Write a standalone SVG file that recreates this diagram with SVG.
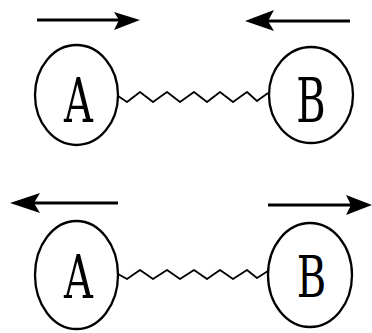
<svg xmlns="http://www.w3.org/2000/svg" width="372" height="333" viewBox="0 0 372 333">
<style>
.node ellipse{fill:none;stroke:#000;stroke-width:2.3}
.node text{font-family:"DejaVu Serif",serif;font-size:40px;fill:#000;text-anchor:middle}
.conn{fill:none;stroke:#000;stroke-width:1.8;stroke-linejoin:round}
.arrow{fill:none;stroke:#000;stroke-width:3}
.head{fill:#000;stroke:none}
</style>
<rect width="372" height="333" fill="#fff"/>
<g id="connectors">
<polyline class="conn" points="118,96 127,102 140,92 153,102 167,92 180,102 194,92 207,102 220,92 233,102 247,92 257,101 268,93"/>
<polyline class="conn" points="118,274 127,279 140,270 153,279 167,270 180,279 194,270 207,279 220,270 233,279 247,270 257,278 268,271"/>
<g id="arrow-top-left">
<line class="arrow" x1="37" y1="20" x2="128" y2="20"/>
<path class="head" d="M140,20 L114,12 L119,20 L114,30 Z"/>
</g>
<g id="arrow-top-right">
<line class="arrow" x1="262" y1="21" x2="350" y2="21"/>
<path class="head" d="M245,21 L274,10 L268,21 L274,31 Z"/>
</g>
<g id="arrow-bottom-left">
<line class="arrow" x1="25" y1="203" x2="118" y2="203"/>
<path class="head" d="M10,203 L40,193 L34,203 L40,213 Z"/>
</g>
<g id="arrow-bottom-right">
<line class="arrow" x1="268" y1="205" x2="358" y2="205"/>
<path class="head" d="M372,205 L346,195 L351,205 L346,215 Z"/>
</g>
</g>
<g id="node-A-top" class="node">
<ellipse cx="76.5" cy="95" rx="41.5" ry="50"/>
<text transform="translate(78.5,122) scale(1,1.55)">A</text>
</g>
<g id="node-B-top" class="node">
<ellipse cx="311" cy="95" rx="42" ry="48"/>
<text transform="translate(311,122) scale(1,1.55)">B</text>
</g>
<g id="node-A-bottom" class="node">
<ellipse cx="76.5" cy="275" rx="41.5" ry="54"/>
<text transform="translate(78.5,298) scale(1,1.48)">A</text>
</g>
<g id="node-B-bottom" class="node">
<ellipse cx="310" cy="275" rx="42" ry="52"/>
<text transform="translate(311.5,297) scale(1,1.43)">B</text>
</g>
</svg>
